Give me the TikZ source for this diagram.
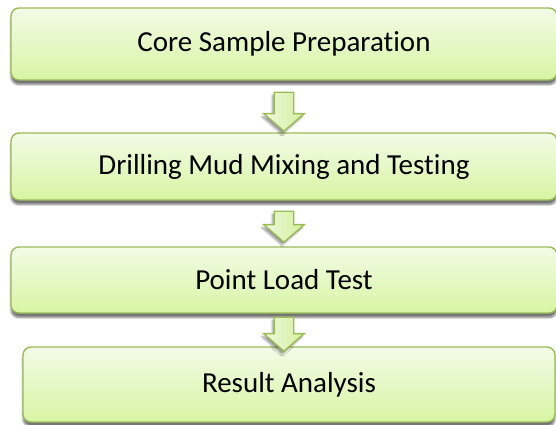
\documentclass[tikz,border=0pt]{standalone}
\usepackage{fontspec}
\setmainfont{Carlito}[RawFeature=-liga]
\usepackage{tikz}
\usetikzlibrary{shapes.arrows,shadows.blur}
\definecolor{stepline}{HTML}{9BBB59}
\definecolor{steptop}{HTML}{F3FBE7}
\definecolor{stepbottom}{HTML}{D7F5A3}
\definecolor{arrowtop}{HTML}{EEF9DC}
\definecolor{arrowbottom}{HTML}{D2EF9C}
\tikzstyle{process} = [rectangle, rounded corners=8pt, text centered, draw=stepline, line width=1.4pt, top color=steptop, bottom color=stepbottom, blur shadow={shadow xshift=0pt, shadow yshift=-4.5pt, shadow opacity=55, shadow blur steps=8}, font=\fontsize{29}{34}\selectfont]
\tikzstyle{downarrow} = [single arrow, rotate=-90, draw=stepline, line width=1.4pt, left color=arrowtop, right color=arrowbottom, inner xsep=0pt, inner ysep=9pt, single arrow head extend=10.5pt, single arrow tip angle=98, blur shadow={shadow xshift=-2pt, shadow yshift=-3pt, shadow opacity=40, shadow blur steps=6}]

\begin{document}
\begin{tikzpicture}[x=1pt, y=-1pt]
	\useasboundingbox (0,0) rectangle (556,424);
	\node (prep) at (284, 44) [process, minimum width=546pt, minimum height=72pt] {Core Sample Preparation};
	\node (mud) at (284, 166.5) [process, minimum width=546pt, minimum height=67pt] {Drilling Mud Mixing and Testing};
	\node (plt) at (284, 280) [process, minimum width=546pt, minimum height=66pt] {Point Load Test};
	\node (result) at (289, 384.5) [process, minimum width=532pt, minimum height=75pt] {Result Analysis};
	\node (toMud) at (284, 107.5) [downarrow, minimum height=39pt] {};
	\node (toPlt) at (284, 222.5) [downarrow, minimum height=31pt] {};
	\node (toResult) at (284, 330) [downarrow, minimum height=34pt] {};
\end{tikzpicture}
\end{document}
